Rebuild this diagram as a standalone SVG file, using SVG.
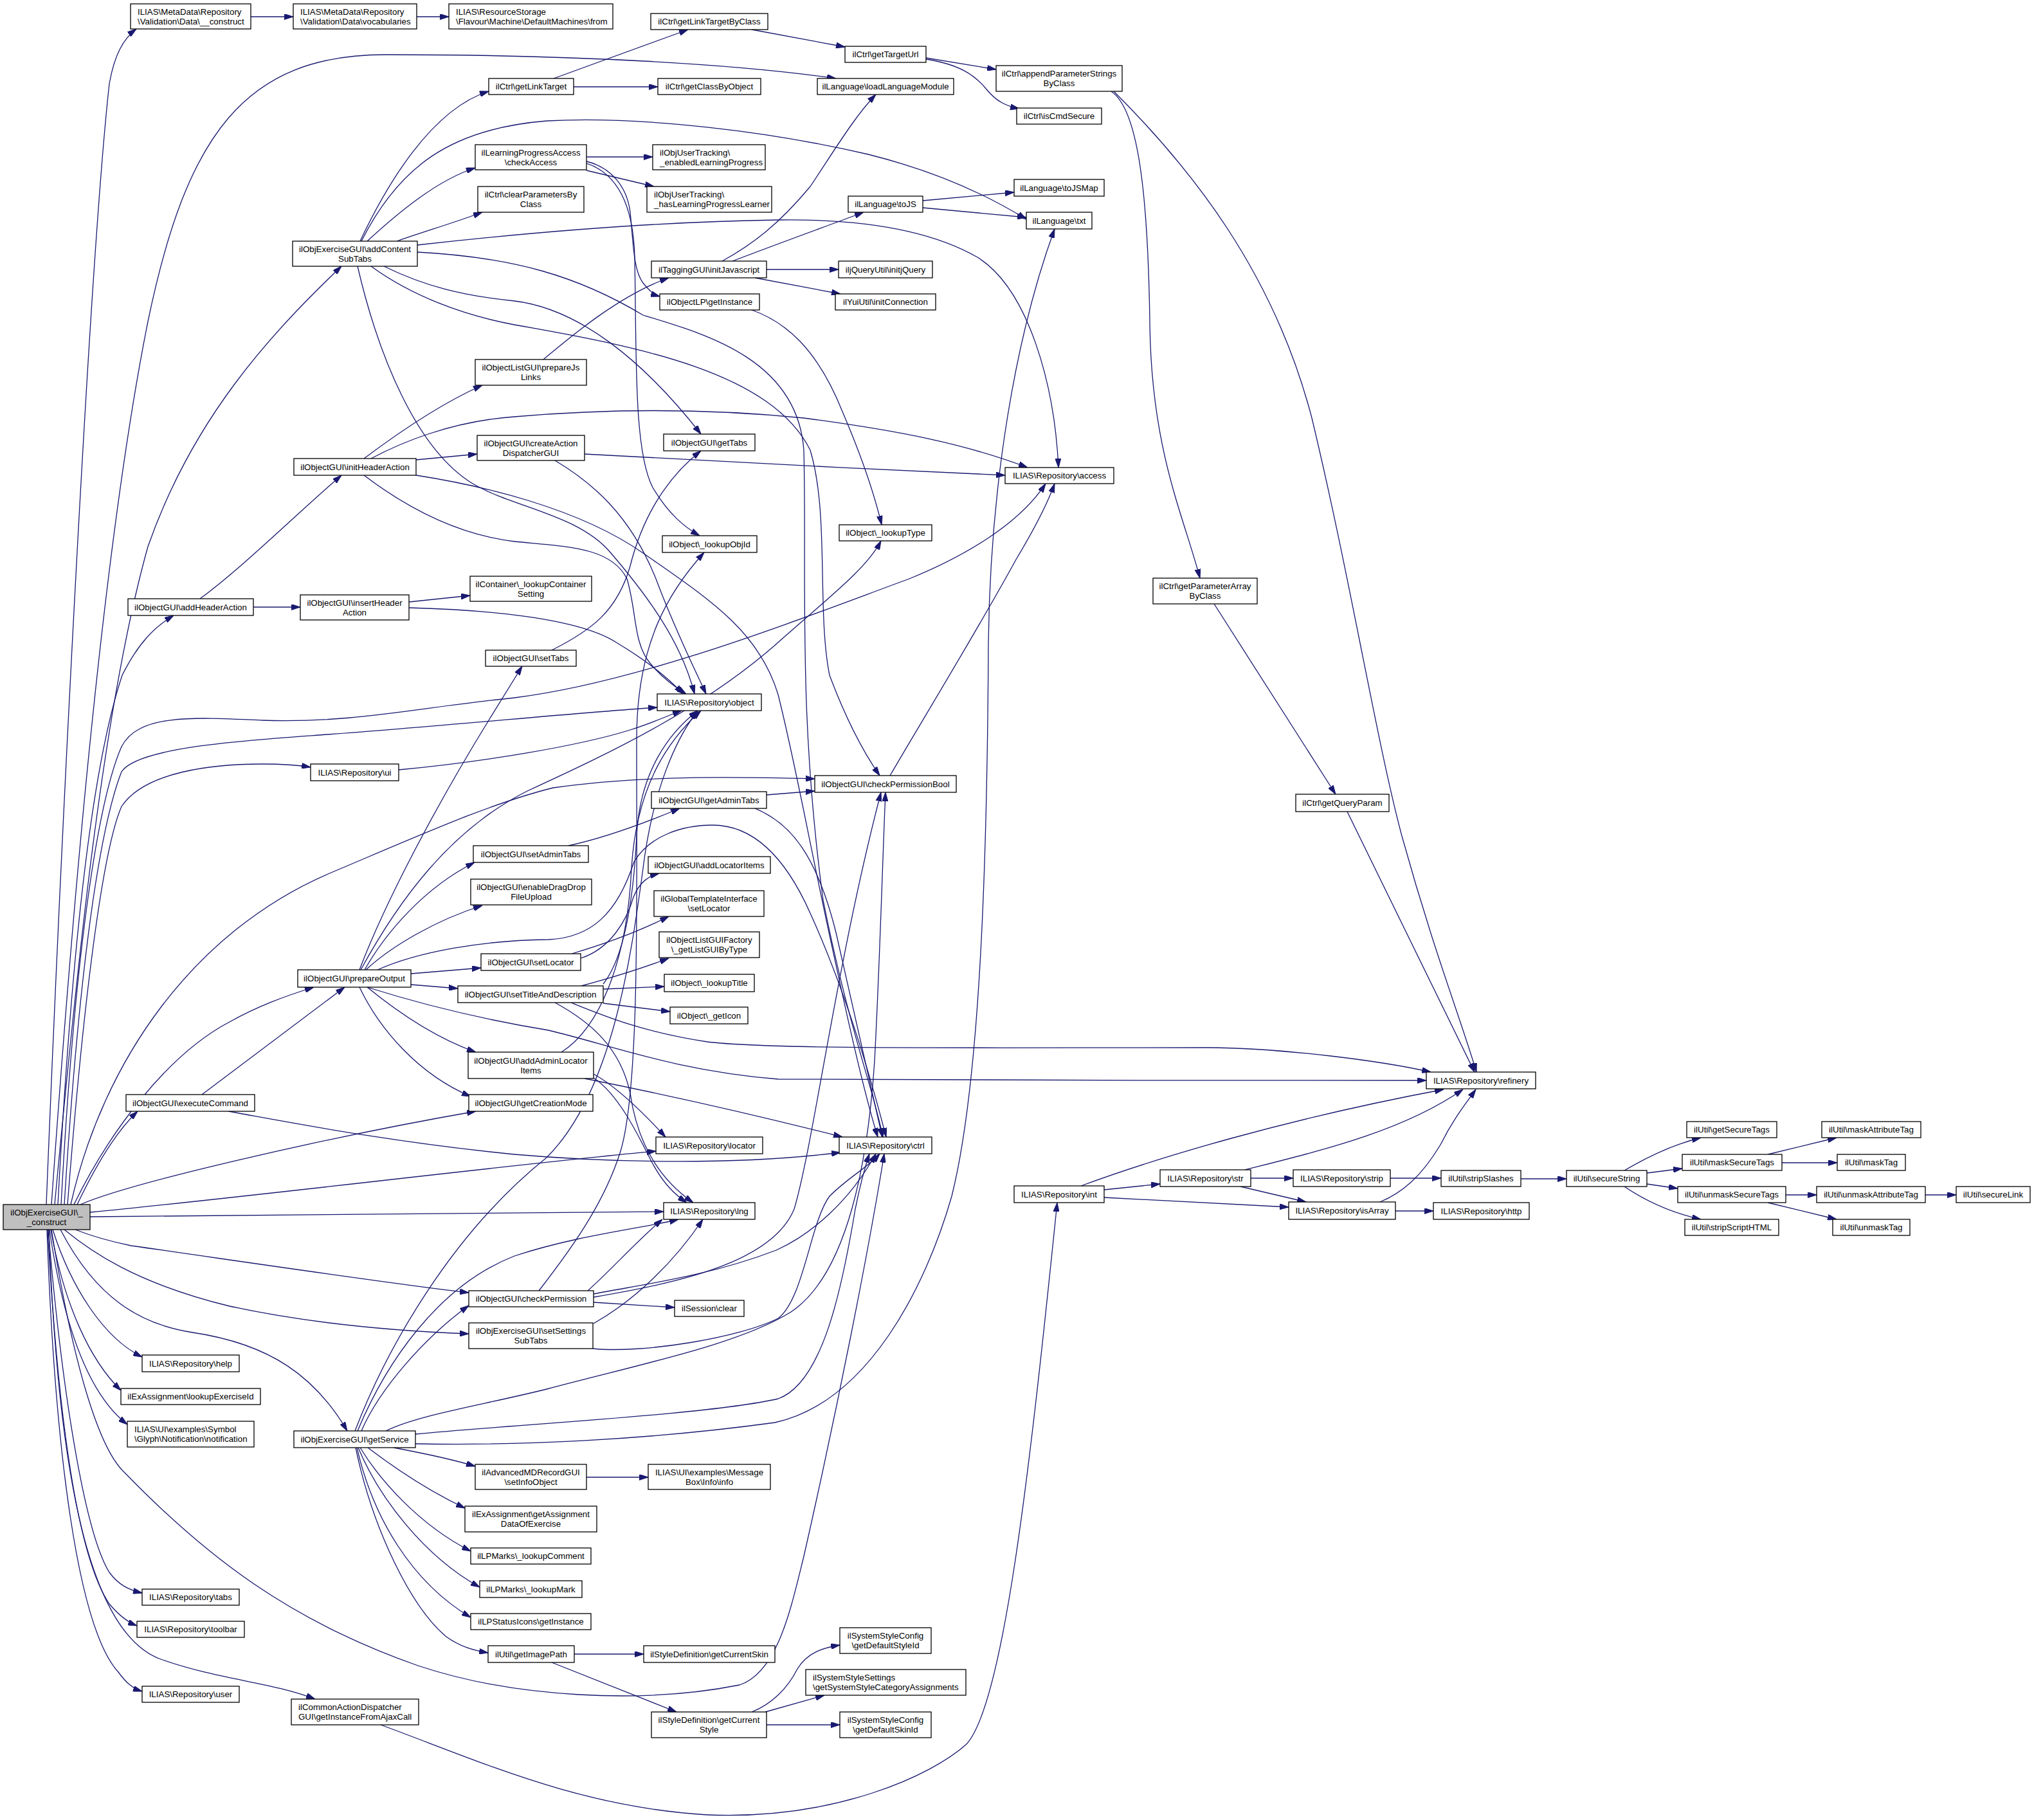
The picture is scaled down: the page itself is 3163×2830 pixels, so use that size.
<svg xmlns="http://www.w3.org/2000/svg" width="3163" height="2830" viewBox="0 0 3163 2830">
<style>
.n{fill:#fff;stroke:#000;stroke-width:1.3}
.r{fill:#bfbfbf;stroke:#000;stroke-width:1.3}
.t{font-family:"Liberation Sans",Arial,Helvetica,sans-serif;font-size:13.33px;fill:#000;text-anchor:middle}
.l{text-anchor:start}
.e{fill:none;stroke:#191970;stroke-width:1.3;marker-end:url(#ah)}
</style>
<defs>
<marker id="ah" viewBox="0 0 14 9" refX="14" refY="4.5" markerWidth="14" markerHeight="9" markerUnits="userSpaceOnUse" orient="auto"><path d="M0,0 L14,4.5 L0,9 z" fill="#191970" stroke="#191970" stroke-width="1"/></marker>
</defs>
<rect x="0" y="0" width="3163" height="2830" fill="#fff"/>
<g id="edges">
<path class="e" d="M72,1873 C95,1300 140,400 170,130 C178,85 192,60 212,45"/>
<path class="e" d="M80,1873 C120,1300 170,800 230,500 C290,210 380,85 600,85 C900,85 1150,100 1300,122"/>
<path class="e" d="M85,1873 C120,1500 160,1100 230,850 C300,650 420,520 531,414"/>
<path class="e" d="M90,1873 C110,1500 140,1200 190,1050 C215,1000 240,975 270,957"/>
<path class="e" d="M95,1873 C115,1500 150,1250 189,1161 C215,1110 300,1115 408,1120 C550,1125 650,1100 800,1085 C1000,1060 1250,960 1414,900 C1500,865 1585,815 1626,752"/>
<path class="e" d="M100,1873 C120,1550 150,1300 189,1200 C215,1160 400,1150 510,1142 C700,1128 900,1108 1022,1100"/>
<path class="e" d="M105,1873 C130,1550 160,1320 189,1254 C225,1200 330,1188 408,1188 C440,1188 465,1190 483,1193"/>
<path class="e" d="M110,1873 C160,1650 300,1450 510,1359 C650,1300 760,1250 860,1225 C1000,1205 1150,1208 1267,1211"/>
<path class="e" d="M115,1873 C170,1760 260,1640 357,1589 C400,1565 440,1550 488,1535"/>
<path class="e" d="M120,1873 C150,1810 180,1760 214,1728"/>
<path class="e" d="M125,1873 C200,1840 500,1770 740,1728"/>
<path class="e" d="M140,1885 C400,1860 800,1810 1020,1790"/>
<path class="e" d="M140,1892 C500,1890 800,1886 1032,1884"/>
<path class="e" d="M117,1912 C150,1925 180,1932 204,1937 C400,1965 600,1995 729,2010"/>
<path class="e" d="M100,1912 C140,1945 210,1995 357,2031 C500,2062 650,2071 729,2074"/>
<path class="e" d="M94,1912 C150,2020 220,2060 300,2072 C420,2090 490,2140 540,2225"/>
<path class="e" d="M82,1912 C110,2000 160,2080 221,2110"/>
<path class="e" d="M79,1912 C100,2030 140,2115 188,2162"/>
<path class="e" d="M77,1912 C100,2070 140,2170 198,2215"/>
<path class="e" d="M75,1912 C95,2150 130,2380 170,2445 C185,2465 200,2472 221,2477"/>
<path class="e" d="M74,1912 C90,2200 120,2420 170,2494 C185,2512 198,2522 213,2528"/>
<path class="e" d="M73,1912 C85,2250 120,2530 184,2600 C195,2615 205,2625 221,2630"/>
<path class="e" d="M76,1912 C90,2300 140,2540 250,2580 C340,2612 420,2615 490,2642"/>
<path class="e" d="M80,1912 C110,2100 150,2250 194,2290 C320,2420 450,2520 650,2590 C800,2640 1000,2650 1150,2620 C1210,2600 1230,2500 1250,2420 C1300,2200 1350,1950 1375,1794"/>
<path class="e" d="M646,2245 C800,2248 1000,2240 1205,2212 C1350,2180 1440,2000 1480,1860 C1520,1700 1535,1400 1537,1000 C1540,750 1580,520 1640,356"/>
<path class="e" d="M646,2230 C800,2215 1100,2200 1210,2175 C1280,2150 1310,2000 1330,1880 C1338,1840 1345,1815 1352,1794"/>
<path class="e" d="M600,2225 C650,2200 750,2185 850,2160 C1000,2120 1150,2090 1230,2040 C1320,1980 1350,1800 1360,1650 C1368,1500 1372,1350 1377,1232"/>
<path class="e" d="M556,2225 C600,2120 680,2000 800,1953 C900,1920 1000,1910 1055,1896"/>
<path class="e" d="M552,2225 C600,2100 700,1920 850,1800 C950,1700 980,1500 1000,1350 C1015,1230 1050,1150 1085,1105"/>
<path class="e" d="M562,2225 C590,2160 660,2080 729,2030"/>
<path class="e" d="M612,2251 C660,2260 700,2268 739,2280"/>
<path class="e" d="M572,2251 C610,2280 660,2315 723,2345"/>
<path class="e" d="M560,2251 C590,2300 650,2370 732,2412"/>
<path class="e" d="M557,2251 C590,2330 660,2420 746,2468"/>
<path class="e" d="M555,2251 C580,2360 640,2460 732,2515"/>
<path class="e" d="M553,2251 C580,2380 640,2500 694,2545 C715,2560 735,2566 759,2570"/>
<path class="e" d="M592,2682 C750,2740 900,2810 1100,2822 C1300,2830 1450,2760 1503,2712 C1560,2650 1600,2300 1644,1870"/>
<path class="e" d="M390,26 L456,26"/>
<path class="e" d="M648,26 L698,26"/>
<path class="e" d="M311,931 C380,880 460,800 531,739"/>
<path class="e" d="M394,944 L467,944"/>
<path class="e" d="M560,375 C600,290 670,170 760,142"/>
<path class="e" d="M562,375 C620,260 700,200 850,188 C1000,180 1200,205 1350,240 C1450,265 1530,300 1596,341"/>
<path class="e" d="M571,375 C620,330 680,280 739,261"/>
<path class="e" d="M617,375 C660,360 710,345 750,330"/>
<path class="e" d="M649,381 C800,364 1000,345 1210,342 C1350,340 1450,360 1520,400 C1600,450 1640,600 1646,727"/>
<path class="e" d="M649,392 C800,400 900,430 1000,490 C1100,520 1240,560 1250,700 C1255,900 1240,1100 1280,1400 C1320,1600 1360,1700 1373,1768"/>
<path class="e" d="M577,414 C640,460 720,490 800,505 C1000,540 1200,580 1260,700 C1290,800 1270,950 1290,1050 C1320,1130 1350,1180 1368,1206"/>
<path class="e" d="M597,414 C660,445 720,460 800,468 C900,480 1000,560 1090,675"/>
<path class="e" d="M556,414 C590,560 650,700 735,752 C800,790 900,800 950,860 C1010,930 1060,1000 1080,1079"/>
<path class="e" d="M861,122 L1070,46"/>
<path class="e" d="M892,135 L1023,135"/>
<path class="e" d="M1169,46 L1314,73"/>
<path class="e" d="M1440,90 L1549,108"/>
<path class="e" d="M1440,92 C1490,100 1515,115 1535,140 C1550,158 1565,165 1585,169"/>
<path class="e" d="M1728,142 C1770,170 1785,300 1788,500 C1790,700 1840,800 1866,899"/>
<path class="e" d="M1732,142 C1850,260 1980,420 2040,650 C2100,900 2140,1150 2180,1300 C2230,1480 2270,1580 2296,1667"/>
<path class="e" d="M1888,939 L2077,1235"/>
<path class="e" d="M2095,1262 L2293,1667"/>
<path class="e" d="M912,244 L1015,244"/>
<path class="e" d="M912,265 L1017,290"/>
<path class="e" d="M912,251 C950,260 975,290 980,330 C985,380 985,420 1000,440 C1010,452 1016,458 1026,461"/>
<path class="e" d="M912,254 C960,270 985,320 987,400 C990,550 985,700 1015,758 C1040,800 1065,820 1088,833"/>
<path class="e" d="M1123,406 C1170,380 1210,350 1260,290 C1300,230 1330,180 1362,147"/>
<path class="e" d="M1139,406 C1220,375 1290,350 1343,330"/>
<path class="e" d="M1192,419 L1304,419"/>
<path class="e" d="M1174,432 L1307,457"/>
<path class="e" d="M1435,312 L1577,299"/>
<path class="e" d="M1435,323 L1596,338"/>
<path class="e" d="M845,559 C880,530 960,460 1040,432"/>
<path class="e" d="M1169,482 C1220,500 1270,540 1310,640 C1340,710 1360,770 1371,816"/>
<path class="e" d="M566,713 C610,680 680,630 750,599"/>
<path class="e" d="M647,715 L742,706"/>
<path class="e" d="M577,713 C620,690 700,655 800,648 C950,635 1100,635 1250,650 C1400,670 1500,690 1598,727"/>
<path class="e" d="M566,739 C620,780 700,830 800,842 C880,850 950,850 975,900 C990,950 985,1000 1010,1030 C1030,1055 1050,1068 1067,1079"/>
<path class="e" d="M647,739 C750,755 900,790 1000,860 C1100,930 1180,980 1210,1080 C1240,1200 1260,1320 1300,1500 C1330,1640 1350,1720 1365,1768"/>
<path class="e" d="M909,706 C1100,716 1350,730 1563,739"/>
<path class="e" d="M863,716 C920,750 980,800 1020,900 C1050,980 1080,1040 1098,1079"/>
<path class="e" d="M636,936 L731,926"/>
<path class="e" d="M636,945 C750,948 900,960 960,1000 C1010,1030 1040,1055 1062,1079"/>
<path class="e" d="M858,1011 C920,980 960,950 980,880 C1000,800 1040,740 1090,701"/>
<path class="e" d="M620,1197 C750,1185 900,1160 980,1135 C1020,1122 1040,1112 1060,1105"/>
<path class="e" d="M1384,1206 C1440,1110 1520,980 1580,870 C1610,820 1630,780 1640,752"/>
<path class="e" d="M1192,1236 L1267,1230"/>
<path class="e" d="M1174,1257 C1230,1280 1270,1330 1300,1450 C1330,1580 1355,1690 1372,1768"/>
<path class="e" d="M884,1315 C930,1305 990,1285 1057,1257"/>
<path class="e" d="M559,1508 C600,1400 680,1250 760,1120 C785,1080 800,1055 812,1036"/>
<path class="e" d="M561,1508 C620,1400 700,1290 820,1230 C950,1170 1100,1100 1220,990 C1300,920 1350,880 1370,841"/>
<path class="e" d="M567,1508 C600,1450 660,1380 738,1341"/>
<path class="e" d="M569,1508 C610,1470 680,1430 750,1408"/>
<path class="e" d="M587,1508 C650,1480 750,1462 853,1461 C920,1458 960,1420 986,1340 C1010,1300 1060,1283 1108,1283 C1170,1283 1220,1330 1260,1420 C1310,1530 1350,1660 1378,1768"/>
<path class="e" d="M639,1514 L748,1505"/>
<path class="e" d="M639,1531 L712,1537"/>
<path class="e" d="M571,1535 C650,1560 750,1585 853,1602 C950,1625 1050,1665 1210,1678 C1500,1680 1900,1680 2218,1680"/>
<path class="e" d="M888,1559 C940,1580 1000,1605 1100,1620 C1200,1632 1500,1629 1878,1629 C2000,1630 2150,1650 2225,1667"/>
<path class="e" d="M571,1535 C620,1575 680,1615 740,1636"/>
<path class="e" d="M559,1535 C590,1600 650,1670 732,1705"/>
<path class="e" d="M314,1702 L536,1535"/>
<path class="e" d="M355,1728 C450,1745 600,1775 800,1795 C950,1808 1150,1812 1307,1792"/>
<path class="e" d="M889,1483 C950,1465 1000,1445 1040,1425"/>
<path class="e" d="M903,1490 C950,1475 975,1430 985,1395 C995,1370 1010,1362 1025,1358"/>
<path class="e" d="M904,1533 C960,1518 1000,1505 1040,1490"/>
<path class="e" d="M938,1538 L1033,1534"/>
<path class="e" d="M938,1560 L1042,1573"/>
<path class="e" d="M863,1559 C920,1590 965,1630 980,1700 C990,1770 1020,1830 1078,1870"/>
<path class="e" d="M938,1530 C970,1490 985,1400 990,1300 C995,1200 1040,1140 1085,1105"/>
<path class="e" d="M873,1636 C930,1600 975,1500 982,1350 C990,1220 1040,1150 1090,1105"/>
<path class="e" d="M923,1670 C960,1690 1000,1730 1035,1768"/>
<path class="e" d="M923,1676 C960,1700 990,1760 1010,1800 C1030,1840 1050,1858 1068,1870"/>
<path class="e" d="M909,1677 C1050,1705 1200,1740 1310,1768"/>
<path class="e" d="M914,2007 C950,1975 990,1930 1030,1896"/>
<path class="e" d="M838,2007 C890,1940 940,1870 965,1790 C995,1690 990,1400 990,1150 C990,1000 1040,920 1095,859"/>
<path class="e" d="M923,2012 C1000,1997 1100,1985 1207,1944 C1260,1920 1320,1870 1362,1794"/>
<path class="e" d="M923,2017 C1050,1995 1200,1965 1235,1880 C1265,1780 1300,1500 1370,1232"/>
<path class="e" d="M923,2025 L1049,2033"/>
<path class="e" d="M923,2058 C990,2020 1050,1960 1093,1896"/>
<path class="e" d="M922,2097 C1000,2105 1150,2080 1210,2050 C1250,2020 1260,1900 1290,1860 C1320,1830 1350,1815 1368,1794"/>
<path class="e" d="M912,2297 L1008,2297"/>
<path class="e" d="M893,2572 L1001,2572"/>
<path class="e" d="M858,2585 L1052,2662"/>
<path class="e" d="M1169,2662 C1200,2650 1225,2625 1240,2595 C1255,2570 1280,2562 1306,2558"/>
<path class="e" d="M1190,2662 L1282,2636"/>
<path class="e" d="M1192,2682 L1306,2682"/>
<path class="e" d="M1681,1844 C1800,1800 2000,1740 2245,1694"/>
<path class="e" d="M1717,1850 L1804,1841"/>
<path class="e" d="M1717,1862 L2004,1877"/>
<path class="e" d="M1936,1819 C2050,1790 2180,1760 2275,1694"/>
<path class="e" d="M1945,1832 L2011,1832"/>
<path class="e" d="M1929,1845 L2031,1869"/>
<path class="e" d="M2162,1832 L2241,1832"/>
<path class="e" d="M2146,1869 C2180,1855 2210,1830 2240,1780 C2260,1740 2280,1715 2295,1694"/>
<path class="e" d="M2170,1883 L2229,1883"/>
<path class="e" d="M2365,1833 L2436,1833"/>
<path class="e" d="M2526,1820 C2560,1800 2600,1780 2645,1769"/>
<path class="e" d="M2561,1824 L2616,1817"/>
<path class="e" d="M2561,1841 L2609,1848"/>
<path class="e" d="M2526,1845 C2560,1868 2600,1886 2645,1896"/>
<path class="e" d="M2749,1795 L2856,1769"/>
<path class="e" d="M2771,1808 L2857,1808"/>
<path class="e" d="M2777,1858 L2825,1858"/>
<path class="e" d="M2749,1870 L2856,1896"/>
<path class="e" d="M2994,1858 L3042,1858"/>
</g>
<g id="node-main"><rect class="r" x="5" y="1873" width="135" height="39"/><text class="t" x="72.5" y="1890">ilObjExerciseGUI\_</text><text class="t" x="72.5" y="1904.5">_construct</text></g>
<g id="node-md-construct"><rect class="n" x="203" y="6" width="187" height="39"/><text class="t l" x="214" y="23">ILIAS\MetaData\Repository</text><text class="t l" x="214" y="37.5">\Validation\Data\__construct</text></g>
<g id="node-md-vocab"><rect class="n" x="456" y="6" width="192" height="39"/><text class="t l" x="467" y="23">ILIAS\MetaData\Repository</text><text class="t l" x="467" y="37.5">\Validation\Data\vocabularies</text></g>
<g id="node-rs-from"><rect class="n" x="698" y="6" width="255" height="39"/><text class="t l" x="709" y="23">ILIAS\ResourceStorage</text><text class="t l" x="709" y="37.5">\Flavour\Machine\DefaultMachines\from</text></g>
<g id="node-getLinkTargetByClass"><rect class="n" x="1012" y="21" width="182" height="25"/><text class="t" x="1103" y="38.2">ilCtrl\getLinkTargetByClass</text></g>
<g id="node-getTargetUrl"><rect class="n" x="1314" y="72" width="126" height="25"/><text class="t" x="1377" y="89.2">ilCtrl\getTargetUrl</text></g>
<g id="node-appendParameterStringsByClass"><rect class="n" x="1549" y="102" width="196" height="40"/><text class="t" x="1647" y="119.4">ilCtrl\appendParameterStrings</text><text class="t" x="1647" y="134">ByClass</text></g>
<g id="node-isCmdSecure"><rect class="n" x="1581" y="168" width="132" height="25"/><text class="t" x="1647" y="185.2">ilCtrl\isCmdSecure</text></g>
<g id="node-loadLanguageModule"><rect class="n" x="1271" y="122" width="212" height="25"/><text class="t" x="1377" y="139.2">ilLanguage\loadLanguageModule</text></g>
<g id="node-getLinkTarget"><rect class="n" x="760" y="122" width="132" height="25"/><text class="t" x="826" y="139.2">ilCtrl\getLinkTarget</text></g>
<g id="node-getClassByObject"><rect class="n" x="1023" y="122" width="160" height="25"/><text class="t" x="1103" y="139.2">ilCtrl\getClassByObject</text></g>
<g id="node-checkAccess"><rect class="n" x="739" y="225" width="173" height="39"/><text class="t" x="825.5" y="241.9">ilLearningProgressAccess</text><text class="t" x="825.5" y="256.5">\checkAccess</text></g>
<g id="node-enabledLP"><rect class="n" x="1015" y="225" width="175" height="39"/><text class="t l" x="1026" y="241.9">ilObjUserTracking\</text><text class="t l" x="1026" y="256.5">_enabledLearningProgress</text></g>
<g id="node-clearParametersByClass"><rect class="n" x="743" y="290" width="165" height="40"/><text class="t" x="825.5" y="307.4">ilCtrl\clearParametersBy</text><text class="t" x="825.5" y="322">Class</text></g>
<g id="node-hasLPLearner"><rect class="n" x="1006" y="290" width="194" height="40"/><text class="t l" x="1017" y="307.4">ilObjUserTracking\</text><text class="t l" x="1017" y="322">_hasLearningProgressLearner</text></g>
<g id="node-toJS"><rect class="n" x="1319" y="305" width="116" height="25"/><text class="t" x="1377" y="322.2">ilLanguage\toJS</text></g>
<g id="node-toJSMap"><rect class="n" x="1577" y="279" width="140" height="26"/><text class="t" x="1647" y="296.7">ilLanguage\toJSMap</text></g>
<g id="node-txt"><rect class="n" x="1596" y="330" width="102" height="26"/><text class="t" x="1647" y="347.7">ilLanguage\txt</text></g>
<g id="node-addContentSubTabs"><rect class="n" x="455" y="375" width="194" height="39"/><text class="t" x="552" y="391.9">ilObjExerciseGUI\addContent</text><text class="t" x="552" y="406.5">SubTabs</text></g>
<g id="node-initJavascript"><rect class="n" x="1013" y="406" width="179" height="26"/><text class="t" x="1102.5" y="423.7">ilTaggingGUI\initJavascript</text></g>
<g id="node-initjQuery"><rect class="n" x="1304" y="406" width="146" height="26"/><text class="t" x="1377" y="423.7">iljQueryUtil\initjQuery</text></g>
<g id="node-objectLPgetInstance"><rect class="n" x="1026" y="457" width="155" height="25"/><text class="t" x="1103.5" y="474.2">ilObjectLP\getInstance</text></g>
<g id="node-initConnection"><rect class="n" x="1299" y="457" width="156" height="25"/><text class="t" x="1377" y="474.2">ilYuiUtil\initConnection</text></g>
<g id="node-prepareJsLinks"><rect class="n" x="739" y="559" width="173" height="40"/><text class="t" x="825.5" y="576.4">ilObjectListGUI\prepareJs</text><text class="t" x="825.5" y="591">Links</text></g>
<g id="node-getTabs"><rect class="n" x="1032" y="675" width="142" height="26"/><text class="t" x="1103" y="692.7">ilObjectGUI\getTabs</text></g>
<g id="node-createActionDispatcherGUI"><rect class="n" x="742" y="677" width="167" height="39"/><text class="t" x="825.5" y="693.9">ilObjectGUI\createAction</text><text class="t" x="825.5" y="708.5">DispatcherGUI</text></g>
<g id="node-access"><rect class="n" x="1563" y="727" width="169" height="25"/><text class="t" x="1647.5" y="744.2">ILIAS\Repository\access</text></g>
<g id="node-initHeaderAction"><rect class="n" x="457" y="713" width="190" height="26"/><text class="t" x="552" y="730.7">ilObjectGUI\initHeaderAction</text></g>
<g id="node-lookupType"><rect class="n" x="1305" y="816" width="144" height="25"/><text class="t" x="1377" y="833.2">ilObject\_lookupType</text></g>
<g id="node-lookupObjId"><rect class="n" x="1030" y="833" width="147" height="26"/><text class="t" x="1103.5" y="850.7">ilObject\_lookupObjId</text></g>
<g id="node-lookupContainerSetting"><rect class="n" x="731" y="896" width="189" height="39"/><text class="t" x="825.5" y="912.9">ilContainer\_lookupContainer</text><text class="t" x="825.5" y="927.5">Setting</text></g>
<g id="node-getParameterArrayByClass"><rect class="n" x="1793" y="899" width="162" height="40"/><text class="t" x="1874" y="916.4">ilCtrl\getParameterArray</text><text class="t" x="1874" y="931">ByClass</text></g>
<g id="node-addHeaderAction"><rect class="n" x="199" y="931" width="195" height="26"/><text class="t" x="296.5" y="948.7">ilObjectGUI\addHeaderAction</text></g>
<g id="node-insertHeaderAction"><rect class="n" x="467" y="925" width="169" height="39"/><text class="t" x="551.5" y="941.9">ilObjectGUI\insertHeader</text><text class="t" x="551.5" y="956.5">Action</text></g>
<g id="node-setTabs"><rect class="n" x="755" y="1011" width="141" height="25"/><text class="t" x="825.5" y="1028.2">ilObjectGUI\setTabs</text></g>
<g id="node-object"><rect class="n" x="1022" y="1079" width="162" height="26"/><text class="t" x="1103" y="1096.7">ILIAS\Repository\object</text></g>
<g id="node-ui"><rect class="n" x="483" y="1188" width="137" height="26"/><text class="t" x="551.5" y="1205.7">ILIAS\Repository\ui</text></g>
<g id="node-checkPermissionBool"><rect class="n" x="1267" y="1206" width="220" height="26"/><text class="t" x="1377" y="1223.7">ilObjectGUI\checkPermissionBool</text></g>
<g id="node-getAdminTabs"><rect class="n" x="1013" y="1231" width="179" height="26"/><text class="t" x="1102.5" y="1248.7">ilObjectGUI\getAdminTabs</text></g>
<g id="node-getQueryParam"><rect class="n" x="2015" y="1235" width="145" height="27"/><text class="t" x="2087.5" y="1253.2">ilCtrl\getQueryParam</text></g>
<g id="node-setAdminTabs"><rect class="n" x="736" y="1315" width="179" height="26"/><text class="t" x="825.5" y="1332.7">ilObjectGUI\setAdminTabs</text></g>
<g id="node-addLocatorItems"><rect class="n" x="1008" y="1332" width="190" height="26"/><text class="t" x="1103" y="1349.7">ilObjectGUI\addLocatorItems</text></g>
<g id="node-enableDragDropFileUpload"><rect class="n" x="732" y="1367" width="188" height="40"/><text class="t" x="826" y="1384.4">ilObjectGUI\enableDragDrop</text><text class="t" x="826" y="1399">FileUpload</text></g>
<g id="node-gtiSetLocator"><rect class="n" x="1017" y="1385" width="171" height="40"/><text class="t" x="1102.5" y="1402.4">ilGlobalTemplateInterface</text><text class="t" x="1102.5" y="1417">\setLocator</text></g>
<g id="node-getListGUIByType"><rect class="n" x="1025" y="1449" width="156" height="40"/><text class="t" x="1103" y="1466.4">ilObjectListGUIFactory</text><text class="t" x="1103" y="1481">\_getListGUIByType</text></g>
<g id="node-setLocator"><rect class="n" x="748" y="1483" width="155" height="26"/><text class="t" x="825.5" y="1500.7">ilObjectGUI\setLocator</text></g>
<g id="node-prepareOutput"><rect class="n" x="463" y="1508" width="176" height="27"/><text class="t" x="551" y="1526.2">ilObjectGUI\prepareOutput</text></g>
<g id="node-lookupTitle"><rect class="n" x="1033" y="1515" width="140" height="27"/><text class="t" x="1103" y="1533.2">ilObject\_lookupTitle</text></g>
<g id="node-setTitleAndDescription"><rect class="n" x="712" y="1533" width="226" height="26"/><text class="t" x="825" y="1550.7">ilObjectGUI\setTitleAndDescription</text></g>
<g id="node-getIcon"><rect class="n" x="1042" y="1566" width="121" height="26"/><text class="t" x="1102.5" y="1583.7">ilObject\_getIcon</text></g>
<g id="node-addAdminLocatorItems"><rect class="n" x="728" y="1636" width="195" height="41"/><text class="t" x="825.5" y="1653.9">ilObjectGUI\addAdminLocator</text><text class="t" x="825.5" y="1668.5">Items</text></g>
<g id="node-refinery"><rect class="n" x="2218" y="1667" width="170" height="26"/><text class="t" x="2303" y="1684.7">ILIAS\Repository\refinery</text></g>
<g id="node-getCreationMode"><rect class="n" x="729" y="1702" width="193" height="26"/><text class="t" x="825.5" y="1719.7">ilObjectGUI\getCreationMode</text></g>
<g id="node-executeCommand"><rect class="n" x="196" y="1702" width="200" height="26"/><text class="t" x="296" y="1719.7">ilObjectGUI\executeCommand</text></g>
<g id="node-locator"><rect class="n" x="1020" y="1768" width="166" height="26"/><text class="t" x="1103" y="1785.7">ILIAS\Repository\locator</text></g>
<g id="node-ctrl"><rect class="n" x="1305" y="1768" width="144" height="26"/><text class="t" x="1377" y="1785.7">ILIAS\Repository\ctrl</text></g>
<g id="node-getSecureTags"><rect class="n" x="2623" y="1744" width="140" height="25"/><text class="t" x="2693" y="1761.2">ilUtil\getSecureTags</text></g>
<g id="node-maskAttributeTag"><rect class="n" x="2833" y="1744" width="154" height="25"/><text class="t" x="2910" y="1761.2">ilUtil\maskAttributeTag</text></g>
<g id="node-maskSecureTags"><rect class="n" x="2616" y="1795" width="155" height="25"/><text class="t" x="2693.5" y="1812.2">ilUtil\maskSecureTags</text></g>
<g id="node-maskTag"><rect class="n" x="2857" y="1795" width="106" height="25"/><text class="t" x="2910" y="1812.2">ilUtil\maskTag</text></g>
<g id="node-str"><rect class="n" x="1804" y="1819" width="141" height="26"/><text class="t" x="1874.5" y="1836.7">ILIAS\Repository\str</text></g>
<g id="node-strip"><rect class="n" x="2011" y="1819" width="151" height="26"/><text class="t" x="2086.5" y="1836.7">ILIAS\Repository\strip</text></g>
<g id="node-stripSlashes"><rect class="n" x="2241" y="1820" width="124" height="25"/><text class="t" x="2303" y="1837.2">ilUtil\stripSlashes</text></g>
<g id="node-secureString"><rect class="n" x="2436" y="1820" width="125" height="25"/><text class="t" x="2498.5" y="1837.2">ilUtil\secureString</text></g>
<g id="node-int"><rect class="n" x="1577" y="1844" width="140" height="26"/><text class="t" x="1647" y="1861.7">ILIAS\Repository\int</text></g>
<g id="node-isArray"><rect class="n" x="2004" y="1869" width="166" height="27"/><text class="t" x="2087" y="1887.2">ILIAS\Repository\isArray</text></g>
<g id="node-http"><rect class="n" x="2229" y="1870" width="149" height="26"/><text class="t" x="2303.5" y="1887.7">ILIAS\Repository\http</text></g>
<g id="node-unmaskSecureTags"><rect class="n" x="2609" y="1845" width="168" height="25"/><text class="t" x="2693" y="1862.2">ilUtil\unmaskSecureTags</text></g>
<g id="node-unmaskAttributeTag"><rect class="n" x="2825" y="1845" width="169" height="25"/><text class="t" x="2909.5" y="1862.2">ilUtil\unmaskAttributeTag</text></g>
<g id="node-secureLink"><rect class="n" x="3042" y="1845" width="115" height="25"/><text class="t" x="3099.5" y="1862.2">ilUtil\secureLink</text></g>
<g id="node-lng"><rect class="n" x="1032" y="1870" width="142" height="26"/><text class="t" x="1103" y="1887.7">ILIAS\Repository\lng</text></g>
<g id="node-stripScriptHTML"><rect class="n" x="2620" y="1896" width="146" height="25"/><text class="t" x="2693" y="1913.2">ilUtil\stripScriptHTML</text></g>
<g id="node-unmaskTag"><rect class="n" x="2850" y="1896" width="120" height="25"/><text class="t" x="2910" y="1913.2">ilUtil\unmaskTag</text></g>
<g id="node-checkPermission"><rect class="n" x="729" y="2007" width="194" height="25"/><text class="t" x="826" y="2024.2">ilObjectGUI\checkPermission</text></g>
<g id="node-sessionClear"><rect class="n" x="1049" y="2022" width="108" height="25"/><text class="t" x="1103" y="2039.2">ilSession\clear</text></g>
<g id="node-setSettingsSubTabs"><rect class="n" x="729" y="2057" width="193" height="40"/><text class="t" x="825.5" y="2074.4">ilObjExerciseGUI\setSettings</text><text class="t" x="825.5" y="2089">SubTabs</text></g>
<g id="node-help"><rect class="n" x="221" y="2107" width="151" height="26"/><text class="t" x="296.5" y="2124.7">ILIAS\Repository\help</text></g>
<g id="node-lookupExerciseId"><rect class="n" x="188" y="2159" width="217" height="25"/><text class="t" x="296.5" y="2176.2">ilExAssignment\lookupExerciseId</text></g>
<g id="node-notification"><rect class="n" x="198" y="2210" width="197" height="40"/><text class="t l" x="209" y="2227.4">ILIAS\UI\examples\Symbol</text><text class="t l" x="209" y="2242">\Glyph\Notification\notification</text></g>
<g id="node-getService"><rect class="n" x="457" y="2225" width="189" height="26"/><text class="t" x="551.5" y="2242.7">ilObjExerciseGUI\getService</text></g>
<g id="node-setInfoObject"><rect class="n" x="739" y="2277" width="173" height="39"/><text class="t" x="825.5" y="2293.9">ilAdvancedMDRecordGUI</text><text class="t" x="825.5" y="2308.5">\setInfoObject</text></g>
<g id="node-messageBoxInfo"><rect class="n" x="1008" y="2277" width="190" height="39"/><text class="t" x="1103" y="2293.9">ILIAS\UI\examples\Message</text><text class="t" x="1103" y="2308.5">Box\Info\info</text></g>
<g id="node-getAssignmentDataOfExercise"><rect class="n" x="723" y="2342" width="205" height="40"/><text class="t" x="825.5" y="2359.4">ilExAssignment\getAssignment</text><text class="t" x="825.5" y="2374">DataOfExercise</text></g>
<g id="node-lookupComment"><rect class="n" x="732" y="2407" width="187" height="25"/><text class="t" x="825.5" y="2424.2">ilLPMarks\_lookupComment</text></g>
<g id="node-lookupMark"><rect class="n" x="746" y="2458" width="159" height="26"/><text class="t" x="825.5" y="2475.7">ilLPMarks\_lookupMark</text></g>
<g id="node-lpStatusIcons"><rect class="n" x="732" y="2509" width="187" height="25"/><text class="t" x="825.5" y="2526.2">ilLPStatusIcons\getInstance</text></g>
<g id="node-getImagePath"><rect class="n" x="759" y="2559" width="134" height="26"/><text class="t" x="826" y="2576.7">ilUtil\getImagePath</text></g>
<g id="node-getCurrentSkin"><rect class="n" x="1001" y="2559" width="204" height="26"/><text class="t" x="1103" y="2576.7">ilStyleDefinition\getCurrentSkin</text></g>
<g id="node-getDefaultStyleId"><rect class="n" x="1306" y="2531" width="142" height="40"/><text class="t" x="1377" y="2548.4">ilSystemStyleConfig</text><text class="t" x="1377" y="2563">\getDefaultStyleId</text></g>
<g id="node-getSystemStyleCategoryAssignments"><rect class="n" x="1253" y="2596" width="249" height="40"/><text class="t l" x="1264" y="2613.4">ilSystemStyleSettings</text><text class="t l" x="1264" y="2628">\getSystemStyleCategoryAssignments</text></g>
<g id="node-getCurrentStyle"><rect class="n" x="1013" y="2662" width="179" height="40"/><text class="t" x="1102.5" y="2679.4">ilStyleDefinition\getCurrent</text><text class="t" x="1102.5" y="2694">Style</text></g>
<g id="node-getDefaultSkinId"><rect class="n" x="1306" y="2662" width="142" height="40"/><text class="t" x="1377" y="2679.4">ilSystemStyleConfig</text><text class="t" x="1377" y="2694">\getDefaultSkinId</text></g>
<g id="node-tabs"><rect class="n" x="221" y="2471" width="151" height="25"/><text class="t" x="296.5" y="2488.2">ILIAS\Repository\tabs</text></g>
<g id="node-toolbar"><rect class="n" x="213" y="2521" width="167" height="25"/><text class="t" x="296.5" y="2538.2">ILIAS\Repository\toolbar</text></g>
<g id="node-user"><rect class="n" x="221" y="2622" width="151" height="25"/><text class="t" x="296.5" y="2639.2">ILIAS\Repository\user</text></g>
<g id="node-getInstanceFromAjaxCall"><rect class="n" x="453" y="2642" width="198" height="40"/><text class="t l" x="464" y="2659.4">ilCommonActionDispatcher</text><text class="t l" x="464" y="2674">GUI\getInstanceFromAjaxCall</text></g>
</svg>
